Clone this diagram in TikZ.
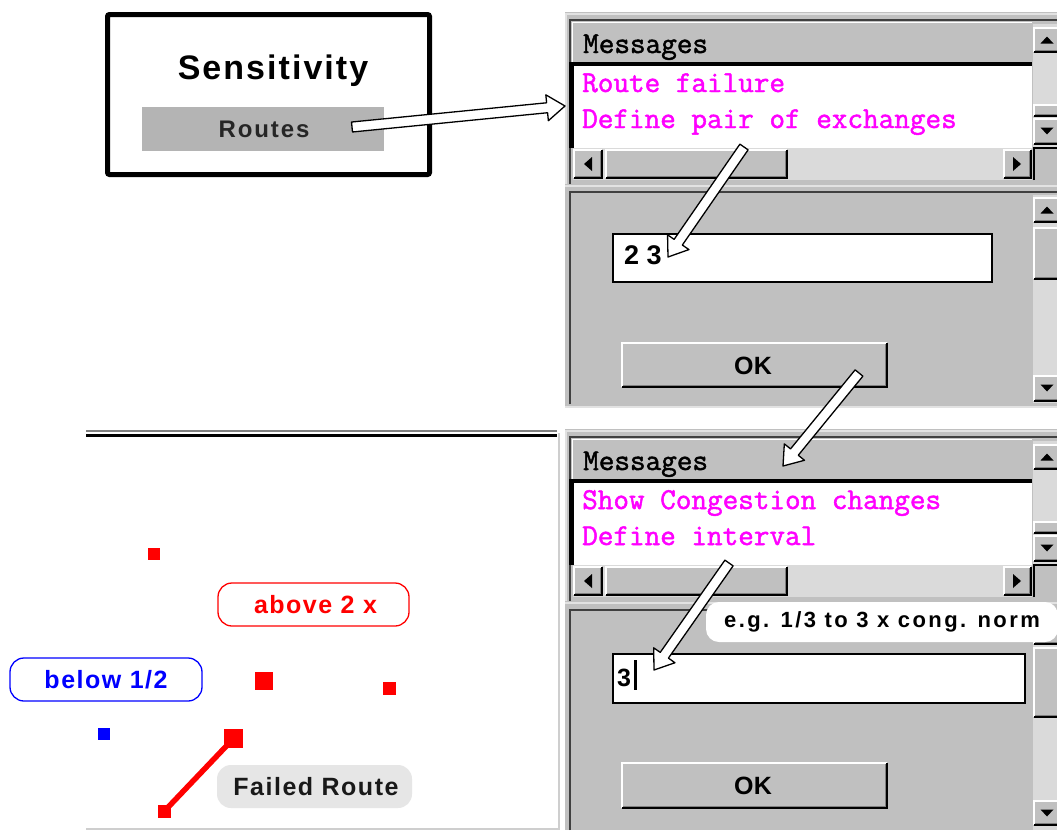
\documentclass[tikz,border=0pt]{standalone}
\usepackage{fontspec}
\setmainfont{Liberation Sans}
\newfontfamily\msgfam{Latin Modern Mono}[FakeBold=1.6]
\usetikzlibrary{calc}
\definecolor{pgray}{HTML}{C0C0C0}
\definecolor{hatch}{HTML}{DADADA}
\definecolor{routegray}{HTML}{B4B4B4}
\definecolor{failgray}{HTML}{E6E6E6}
\definecolor{mag}{HTML}{FF00FF}
\definecolor{darkedge}{HTML}{404040}
\definecolor{lightedge}{HTML}{E2E2E2}
\newcommand\uif[2]{\fontsize{#1}{#1}\selectfont\bfseries\addfontfeature{LetterSpace=#2}}
\newcommand\monof{\fontsize{30.3}{30.3}\selectfont\msgfam}
\newcommand\raisedbtn[4]{%
  \fill[pgray] (#1,#2) rectangle (#3,#4);
  \draw[white,line width=1.6] (#1+0.8,#4-0.8) -- (#1+0.8,#2+0.8) -- (#3-0.8,#2+0.8);
  \draw[black,line width=1.6] (#1+0.8,#4-0.8) -- (#3-0.8,#4-0.8) -- (#3-0.8,#2+0.8);
  \draw[gray,line width=1] (#1+2,#4-2.2) -- (#3-2.2,#4-2.2) -- (#3-2.2,#2+2);
}
\newcommand\triup[2]{\fill[black] (#1-6.5,#2+3.5) -- (#1+6.5,#2+3.5) -- (#1,#2-3.5) -- cycle;}
\newcommand\tridown[2]{\fill[black] (#1-6.5,#2-3.5) -- (#1+6.5,#2-3.5) -- (#1,#2+3.5) -- cycle;}
\newcommand\trileft[2]{\fill[black] (#1+4,#2-7) -- (#1+4,#2+7) -- (#1-4,#2) -- cycle;}
\newcommand\triright[2]{\fill[black] (#1-4,#2-7) -- (#1-4,#2+7) -- (#1+4,#2) -- cycle;}
% upper part of a Messages panel, shifted down by #1
\newcommand\msgpanel[4]{%
\begin{scope}[yshift=-#1pt]
  \fill[pgray] (565,12) rectangle (1057,184);
  \draw[lightedge,line width=2.5] (566,184) -- (566,14) -- (1057,14);
  \draw[darkedge,line width=2] (570,184) -- (570,20) -- (1057,20);
  \fill[pgray] (572,22) rectangle (1032,62);
  \draw[white,line width=1.5] (572.5,62) -- (572.5,22.5) -- (1032,22.5);
  \fill[black] (569,62) rectangle (1032,65.5);
  \fill[white] (573.5,65.5) rectangle (1032,148);
  \fill[black] (569,62) rectangle (573.5,148);
  \node[anchor=base west,font=\monof,inner sep=0] (hdr#4) at (583,53) {Messages};
  \node[anchor=base west,font=\monof,text=mag,inner sep=0] (la#4) at (582,92) {#2};
  \node[anchor=base west,font=\monof,text=mag,inner sep=0] (lb#4) at (582,128) {#3};
  % horizontal scrollbar
  \fill[hatch] (573,148) rectangle (1032,180);
  \raisedbtn{573}{149}{603}{179}\trileft{588}{164}
  \raisedbtn{605}{149}{788}{179}
  \raisedbtn{1003}{149}{1032}{179}\triright{1017}{164}
  % vertical scrollbar
  \fill[hatch] (1033,24) rectangle (1057,148);
  \raisedbtn{1033}{27}{1062}{53}\triup{1047}{40}
  \raisedbtn{1033}{104}{1062}{117}
  \raisedbtn{1033}{118}{1062}{145}\tridown{1047}{131}
  \fill[pgray] (1033,148) rectangle (1057,180);
  \draw[black,line width=1.5] (1034,180) -- (1034,148) -- (1057,148);
\end{scope}}
\tikzset{
  hollow/.style={fill=white, draw=black, line width=1.3, line join=round,
    to path={($(\tikztostart)!5pt!90:(\tikztotarget)$)
      -- ($(\tikztotarget)!18.68pt!-15.52:(\tikztostart)$)
      -- ($(\tikztotarget)!22.2pt!-35.84:(\tikztostart)$)
      -- (\tikztotarget)
      -- ($(\tikztotarget)!22.2pt!35.84:(\tikztostart)$)
      -- ($(\tikztotarget)!18.68pt!15.52:(\tikztostart)$)
      -- ($(\tikztostart)!5pt!-90:(\tikztotarget)$) -- cycle}},
  sq/.style={fill=red, inner sep=0, minimum size=#1},
  pill/.style={rounded corners=14, line width=1.3, inner sep=0, minimum height=43},
}
\begin{document}
\begin{tikzpicture}[x=1pt,y=-1pt]
\useasboundingbox (0,0) rectangle (1057,830);
\clip (0,0) rectangle (1057,830);
\fill[white] (0,0) rectangle (1057,830);

% Sensitivity box
\draw[line width=5, rounded corners=2] (107.5,14.5) rectangle (429.5,174.5);
\fill[routegray] (142,107) rectangle (384,151);
\node[anchor=base, font=\uif{34}{6}, inner sep=0] (sens) at (273,79) {Sensitivity};
\node[anchor=base, font=\uif{24}{8}, inner sep=0, text=black!85] (routes) at (264,137) {Routes};

% top panel
\msgpanel{0}{Route failure}{Define pair of exchanges}{A}
\fill[pgray] (565,184) rectangle (1057,408);
\draw[lightedge,line width=2] (565,186) -- (1057,186);
\draw[darkedge,line width=2] (570,404) -- (570,192) -- (1057,192);
\draw[lightedge,line width=2.5] (565,407) -- (1057,407);
\draw[black,line width=1.5,fill=white] (613,234) rectangle (992,282);
\node[anchor=base west, font=\uif{27}{0}, inner sep=0] (pair) at (624,264) {2 3};
\raisedbtn{621}{342}{888}{388}
\node[anchor=base, font=\uif{25}{2}, inner sep=0] (okA) at (753,374) {OK};
\fill[hatch] (1033,195) rectangle (1057,403);
\raisedbtn{1033}{197}{1062}{223}\triup{1047}{210}
\raisedbtn{1033}{227}{1062}{280}
\raisedbtn{1033}{375}{1062}{402}\tridown{1047}{388}

% bottom panel
\msgpanel{417}{Show Congestion changes}{Define interval}{B}
\fill[pgray] (565,601) rectangle (1057,830);
\draw[lightedge,line width=2] (565,603) -- (1057,603);
\draw[darkedge,line width=2] (570,830) -- (570,610) -- (1057,610);
\draw[black,line width=1.5,fill=white] (613,654) rectangle (1025,703);
\node[anchor=base west, font=\uif{25}{0}, inner sep=0] (val) at (617,686) {3};
\draw[black,line width=2.5] (635.5,660) -- (635.5,690);
\raisedbtn{621}{762}{888}{809}
\node[anchor=base, font=\uif{25}{2}, inner sep=0] (okB) at (753,794) {OK};
\fill[hatch] (1033,612) rectangle (1057,830);
\raisedbtn{1033}{612}{1062}{645}
\raisedbtn{1033}{647}{1062}{718}
\raisedbtn{1033}{800}{1062}{826}\tridown{1047}{813}
\node[fill=white, rounded corners=13, minimum width=352, minimum height=40, inner sep=0,
      font=\uif{22}{11}] (hint) at (882,622) {e.g. 1/3 to 3 x cong. norm};

% map area
\draw[gray,line width=2] (86,431) -- (557,431);
\draw[black,line width=3] (86,435) -- (557,435);
\draw[lightedge!80!gray,line width=2] (558.5,433) -- (558.5,830);
\draw[lightedge!80!gray,line width=2] (86,828.5) -- (558,828.5);

\node[sq=12] (r1) at (154,553.5) {};
\node[sq=18] (r2) at (263.5,681) {};
\node[sq=13] (r3) at (389.5,688) {};
\node[sq=12, fill=blue] (b1) at (104,734) {};
\node[sq=19] (r4) at (233.5,738.5) {};
\node[sq=13] (r5) at (164.5,811) {};
\draw[red, line width=5.5] (r4.center) -- (r5.center);

\node[pill, draw=red, text=red, minimum width=191, font=\uif{25}{6}] (above) at (313.5,604.5) {\hspace{4pt}above 2 x};
\node[pill, draw=blue, text=blue, minimum width=192, font=\uif{25}{6}] (below) at (106,679.5) {below 1/2};
\node[pill, fill=failgray, minimum width=195, font=\uif{25}{6}, text=black!90] (failed) at (314.5,786.5) {\hspace{3pt}Failed Route};

% hollow arrows
\coordinate (a1s) at (352,127);  \coordinate (a1t) at (565,106);
\coordinate (a2s) at (744,147);  \coordinate (a2t) at (668,257);
\coordinate (a3s) at (859,373);  \coordinate (a3t) at (783,466);
\coordinate (a4s) at (729,563);  \coordinate (a4t) at (654,670);
\path[hollow] (a1s) to (a1t);
\path[hollow] (a2s) to (a2t);
\path[hollow] (a3s) to (a3t);
\path[hollow] (a4s) to (a4t);
\end{tikzpicture}
\end{document}
